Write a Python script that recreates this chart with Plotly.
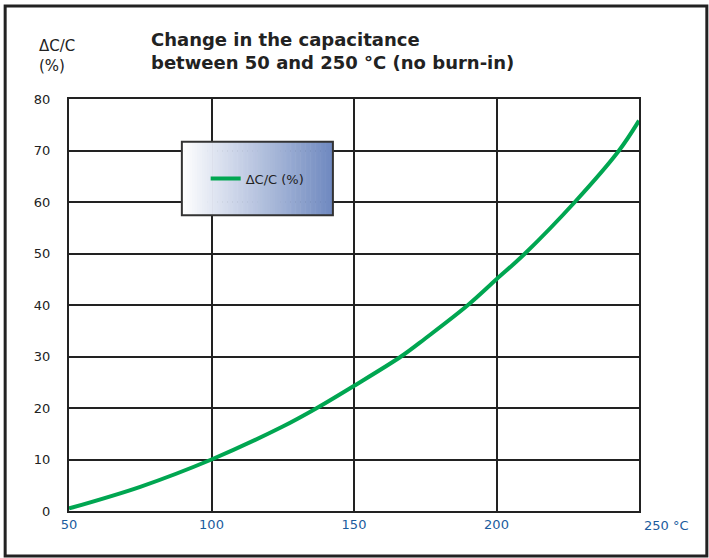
import plotly.graph_objects as go

# Data
temp_c = [50, 75, 100, 125, 137, 150, 166.5, 175, 190, 200, 210, 227.5, 243, 250]
delta_c = [0.5, 4.7, 10, 16.4, 20, 24.3, 30, 33.5, 40, 45, 50, 60, 70, 75.8]
x_ticks = [50, 100, 150, 200]
x_tick_labels = ["50", "100", "150", "200"]
y_ticks = [0, 10, 20, 30, 40, 50, 60, 70, 80]

FONT = "'DejaVu Sans', Verdana, sans-serif"
GRID = "#222222"
BLUE = "#1a5c9e"

fig = go.Figure()
fig.add_trace(go.Scatter(
    x=temp_c, y=delta_c, mode="lines", name="\u0394C/C (%)",
    line=dict(color="#00a651", width=4, shape="spline", smoothing=1.0),
))

shapes = []
# outer frame
shapes.append(dict(type="rect", xref="paper", yref="paper",
                   x0=-0.112, x1=1.119, y0=-0.109, y1=1.2257,
                   line=dict(color="#222222", width=3), fillcolor="rgba(0,0,0,0)", layer="below"))
# legend box gradient
x0, x1, y0, y1 = 0.198, 0.463, 0.718, 0.896
n = 60
c0 = (255, 255, 255)
c1 = (110, 136, 191)
for i in range(n):
    t = (i + 0.5) / n
    col = tuple(int(round(c0[k] + (c1[k] - c0[k]) * t)) for k in range(3))
    xa = x0 + (x1 - x0) * i / n
    xb = x0 + (x1 - x0) * (i + 1) / n + 0.001
    shapes.append(dict(type="rect", xref="paper", yref="paper",
                       x0=xa, x1=min(xb, x1), y0=y0, y1=y1,
                       line=dict(width=0), fillcolor="rgb(%d,%d,%d)" % col, layer="above"))
shapes.append(dict(type="rect", xref="paper", yref="paper",
                   x0=x0, x1=x1, y0=y0, y1=y1,
                   line=dict(color="#333333", width=2), fillcolor="rgba(0,0,0,0)", layer="above"))

annotations = [
    dict(text="<b>Change in the capacitance<br>between 50 and 250 \u00b0C (no burn-in)</b>",
         xref="paper", yref="paper", x=0.140, y=1.116, xanchor="left", yanchor="middle",
         align="left", showarrow=False, font=dict(family=FONT, size=18, color="#222222")),
    dict(text="\u0394C/C<br>(%)", xref="paper", yref="paper", x=-0.056, y=1.105,
         xanchor="left", yanchor="middle", align="left", showarrow=False,
         font=dict(family=FONT, size=15, color="#222222")),
    dict(text="250 \u00b0C", xref="x", yref="paper", x=250, y=0, xshift=3, yshift=-14,
         xanchor="left", yanchor="middle", showarrow=False,
         font=dict(family=FONT, size=13, color=BLUE)),
]

fig.update_layout(
    width=709, height=558,
    margin=dict(l=69, r=70, t=99, b=47),
    paper_bgcolor="white", plot_bgcolor="white",
    font=dict(family=FONT, size=13, color="#222222"),
    showlegend=True,
    legend=dict(x=0.331, y=0.807, xanchor="center", yanchor="middle",
                bgcolor="rgba(0,0,0,0)", borderwidth=0,
                font=dict(family=FONT, size=13, color="#222222"), itemwidth=30),
    shapes=shapes,
    annotations=annotations,
    xaxis=dict(range=[50, 250], tickvals=x_ticks, ticktext=x_tick_labels,
               showgrid=True, gridcolor=GRID, gridwidth=1.5,
               showline=True, linecolor=GRID, linewidth=2, mirror=True,
               zeroline=False, ticks="", tickfont=dict(family=FONT, size=13, color=BLUE),
               fixedrange=True),
    yaxis=dict(range=[0, 80], tickvals=y_ticks,
               showgrid=True, gridcolor=GRID, gridwidth=1.5,
               showline=True, linecolor=GRID, linewidth=2, mirror=True,
               zeroline=False, ticks="", ticklabelstandoff=14,
               tickfont=dict(family=FONT, size=13, color="#222222"),
               fixedrange=True),
)

fig.write_html("out.html", config={"displayModeBar": False},
               post_script="document.body.style.margin='0';document.body.style.padding='0';")
